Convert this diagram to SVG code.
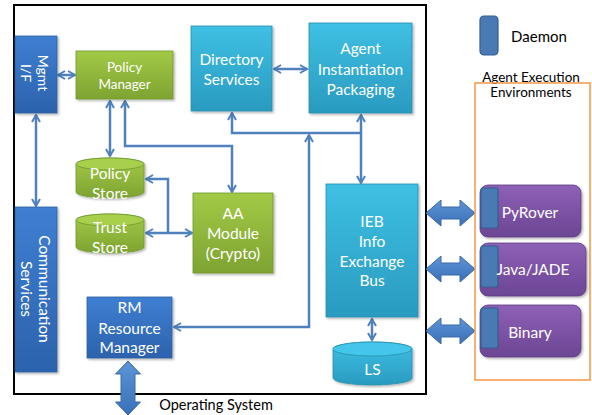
<svg xmlns="http://www.w3.org/2000/svg" width="592" height="415" viewBox="0 0 592 415">
<style>
.t{font-family:Lato,"Open Sans","Liberation Sans",sans-serif;fill:#fff;text-anchor:middle;dominant-baseline:central}
.k{font-family:Lato,"Open Sans","Liberation Sans",sans-serif;fill:#000;text-anchor:middle;dominant-baseline:central}
.c{fill:none;stroke:#4f81bd;stroke-width:2.5;marker-start:url(#ah);marker-end:url(#ah)}
.ce{fill:none;stroke:#4f81bd;stroke-width:2.5;marker-end:url(#ah)}
.cs{fill:none;stroke:#4f81bd;stroke-width:2.5;marker-start:url(#ah)}
.blue{fill:url(#gBlue);stroke:#2f5f9e;stroke-width:0.8}
.green{fill:url(#gGreen);stroke:#6f9a2c;stroke-width:0.8}
.teal{fill:url(#gTeal);stroke:#2790b0;stroke-width:0.8}
.purple{fill:url(#gPurple);stroke:#5e3d86;stroke-width:0.8}
.dmn{fill:#4a7ab4;stroke:#345e92;stroke-width:1.2}
.fat{fill:url(#gFat);stroke:#3a6aa8;stroke-width:1}
.sh{filter:url(#shadow)}
</style>
<defs>
<linearGradient id="gBlue" x1="0" y1="0" x2="0" y2="1"><stop offset="0" stop-color="#3f7fd2"/><stop offset="1" stop-color="#2c62ad"/></linearGradient>
<linearGradient id="gGreen" x1="0" y1="0" x2="0" y2="1"><stop offset="0" stop-color="#a2ca46"/><stop offset="1" stop-color="#7ea332"/></linearGradient>
<linearGradient id="gTeal" x1="0" y1="0" x2="0" y2="1"><stop offset="0" stop-color="#3ec0e4"/><stop offset="1" stop-color="#2a9ac0"/></linearGradient>
<linearGradient id="gPurple" x1="0" y1="0" x2="0" y2="1"><stop offset="0" stop-color="#8e60b6"/><stop offset="1" stop-color="#6c4694"/></linearGradient>
<linearGradient id="gFat" x1="0" y1="0" x2="0" y2="1"><stop offset="0" stop-color="#5d95d6"/><stop offset="1" stop-color="#3a70b8"/></linearGradient>
<filter id="shadow" x="-10%" y="-10%" width="130%" height="130%"><feDropShadow dx="1.5" dy="1.5" stdDeviation="1.2" flood-color="#000" flood-opacity="0.3"/></filter>
<marker id="ah" viewBox="0 0 10 10" refX="8.5" refY="5" markerWidth="10" markerHeight="10" markerUnits="userSpaceOnUse" orient="auto-start-reverse">
<path d="M1.5,1 L8.5,5 L1.5,9" fill="none" stroke="#4f81bd" stroke-width="2"/>
</marker>
</defs>
<rect width="592" height="415" fill="#fff"/>
<rect id="frame" x="14" y="5" width="412" height="389" fill="none" stroke="#000" stroke-width="2"/>

<g id="connectors">
<path class="c" d="M58,75 H75"/>
<path class="c" d="M274,69 H307"/>
<path class="c" d="M36,115 V206"/>
<path class="c" d="M110,101 V156"/>
<path class="c" d="M125,101 V146 H232 V192"/>
<path class="cs" d="M232,113 V133 H361"/>
<path class="c" d="M361,115 V183"/>
<path class="c" d="M174,327 H309 V135"/>
<path class="cs" d="M146,179 H168 V233"/>
<path class="c" d="M146,233 H192"/>
<path class="c" d="M372,319 V340"/>
<path class="fat" d="M426,213 L441,200 L441,207 L460,207 L460,200 L475,213 L460,226 L460,219 L441,219 L441,226 Z"/>
<path class="fat" d="M426,269 L441,256 L441,263 L460,263 L460,256 L475,269 L460,282 L460,275 L441,275 L441,282 Z"/>
<path class="fat" d="M426,331 L441,318 L441,325 L460,325 L460,318 L475,331 L460,344 L460,337 L441,337 L441,344 Z"/>
<path class="fat" d="M128,361 L140.5,374 L135,374 L135,402 L140.5,402 L128,415 L115.5,402 L121,402 L121,374 L115.5,374 Z"/>
</g>

<g id="mgmt">
<rect class="blue sh" x="15" y="36" width="42" height="77"/>
<text class="t" font-size="14" transform="translate(36,73) rotate(90)"><tspan x="0" y="-8">Mgmt</tspan><tspan x="0" y="9">I/F</tspan></text>
</g>
<g id="policy-manager">
<rect class="green sh" x="76" y="51" width="97" height="48"/>
<text class="t" font-size="13.5"><tspan x="124.5" y="67">Policy</tspan><tspan x="124.5" y="84">Manager</tspan></text>
</g>
<g id="directory">
<rect class="teal sh" x="191" y="26" width="81" height="85"/>
<text class="t" font-size="15.5"><tspan x="231.5" y="59">Directory</tspan><tspan x="231.5" y="79">Services</tspan></text>
</g>
<g id="agent-inst">
<rect class="teal sh" x="309" y="23" width="103" height="90"/>
<text class="t" font-size="15.5"><tspan x="360.5" y="48">Agent</tspan><tspan x="360.5" y="69">Instantiation</tspan><tspan x="360.5" y="89">Packaging</tspan></text>
</g>
<g id="policy-store">
<path class="green sh" d="M76,164 A34,6 0 0 1 144,164 V192 A34,6 0 0 1 76,192 Z"/>
<ellipse cx="110" cy="164" rx="34" ry="6" fill="#a8d04c" stroke="#6f9a2c" stroke-width="0.8"/>
<text class="t" font-size="15.5"><tspan x="110" y="173">Policy</tspan><tspan x="110" y="193">Store</tspan></text>
</g>
<g id="trust-store">
<path class="green sh" d="M76,220 A34,6 0 0 1 144,220 V247 A34,6 0 0 1 76,247 Z"/>
<ellipse cx="110" cy="220" rx="34" ry="6" fill="#a8d04c" stroke="#6f9a2c" stroke-width="0.8"/>
<text class="t" font-size="15.5"><tspan x="110" y="227">Trust</tspan><tspan x="110" y="247">Store</tspan></text>
</g>
<g id="aa-module">
<rect class="green sh" x="193" y="193" width="80" height="80"/>
<text class="t" font-size="15.5"><tspan x="233" y="213">AA</tspan><tspan x="233" y="233">Module</tspan><tspan x="233" y="253">(Crypto)</tspan></text>
</g>
<g id="comm">
<rect class="blue sh" x="15" y="207" width="42" height="165"/>
<text class="t" font-size="15.5" transform="translate(36,289) rotate(90)"><tspan x="0" y="-9">Communication</tspan><tspan x="0" y="9">Services</tspan></text>
</g>
<g id="rm">
<rect class="blue sh" x="87" y="297" width="85" height="61"/>
<text class="t" font-size="15.5"><tspan x="129.5" y="307">RM</tspan><tspan x="129.5" y="328">Resource</tspan><tspan x="129.5" y="347">Manager</tspan></text>
</g>
<g id="ieb">
<rect class="teal sh" x="326" y="184" width="92" height="133"/>
<text class="t" font-size="15.5"><tspan x="372" y="221">IEB</tspan><tspan x="372" y="241">Info</tspan><tspan x="372" y="261">Exchange</tspan><tspan x="372" y="280">Bus</tspan></text>
</g>
<g id="ls">
<path class="teal sh" d="M333,349 A39.5,7 0 0 1 412,349 V378 A39.5,7 0 0 1 333,378 Z"/>
<ellipse cx="372.5" cy="349" rx="39.5" ry="7" fill="#44c6ea" stroke="#2790b0" stroke-width="0.8"/>
<text class="t" font-size="15.5" x="372.5" y="369">LS</text>
</g>

<g id="os-label"><text class="k" font-size="14.5" x="216" y="404">Operating System</text></g>

<g id="legend">
<rect class="dmn" x="480" y="16" width="18" height="39" rx="4"/>
<text class="k" font-size="15" x="539" y="36">Daemon</text>
</g>

<g id="aee">
<text class="k" font-size="13.5"><tspan x="531" y="77">Agent Execution</tspan><tspan x="531" y="92">Environments</tspan></text>
<rect x="475" y="83" width="115" height="297" fill="none" stroke="#f79646" stroke-width="1.5"/>
</g>
<g id="pyrover">
<rect class="purple sh" x="480" y="185" width="101" height="52" rx="8"/>
<rect class="dmn" x="481" y="188" width="17" height="40" rx="2"/>
<text class="t" font-size="15.5" x="530" y="212">PyRover</text>
</g>
<g id="java">
<rect class="purple sh" x="480" y="243" width="106" height="53" rx="8"/>
<rect class="dmn" x="481" y="246" width="17" height="41" rx="2"/>
<text class="t" font-size="15.5" x="533" y="269">Java/JADE</text>
</g>
<g id="binary">
<rect class="purple sh" x="480" y="305" width="101" height="52" rx="8"/>
<rect class="dmn" x="481" y="308" width="17" height="40" rx="2"/>
<text class="t" font-size="15.5" x="530" y="332">Binary</text>
</g>
</svg>
